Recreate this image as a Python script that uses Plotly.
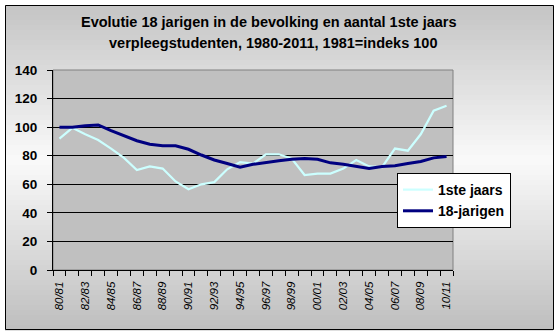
import plotly.graph_objects as go

# Academic years on the category axis
seasons = ["80/81", "81/82", "82/83", "83/84", "84/85", "85/86", "86/87", "87/88",
           "88/89", "89/90", "90/91", "91/92", "92/93", "93/94", "94/95", "95/96",
           "96/97", "97/98", "98/99", "99/00", "00/01", "01/02", "02/03", "03/04",
           "04/05", "05/06", "06/07", "07/08", "08/09", "09/10", "10/11"]

# Index values (1981 = 100)
eerstejaars = [92, 99.5, 95, 91, 85, 78.5, 70, 72.5, 71, 62, 56.5, 60, 61.5, 70.5,
               75.5, 74.5, 81, 81, 78, 66.5, 67.5, 67.5, 71, 77, 72.5, 72, 85,
               83.5, 95, 111.5, 115]
achttienjarigen = [100, 100, 101, 101.5, 97.5, 94, 90.5, 88, 87, 87, 84.5, 80.5, 77,
                   74.5, 72, 74, 75.5, 76.5, 77.5, 78, 77.5, 75, 74, 72.5, 71, 72.5,
                   73, 74.5, 76, 78.5, 79.5]

y_ticks = [0, 20, 40, 60, 80, 100, 120, 140]

W_FIG, H_FIG = 558, 334
L, R, T, B = 53, 105, 70, 64
PW, PH = W_FIG - L - R, H_FIG - T - B
FONT = "Liberation Sans, Arial"


def fx(px):
    return (px - L) / PW


def fy(py):
    return (H_FIG - B - py) / PH


xs = list(range(len(seasons)))

fig = go.Figure()
fig.add_trace(go.Scatter(x=xs, y=eerstejaars, mode="lines", name="1ste jaars",
                         line=dict(color="#CCFFFF", width=2.2), legendgroup="a"))
fig.add_trace(go.Scatter(x=xs, y=achttienjarigen, mode="lines", name="18-jarigen",
                         line=dict(color="#000080", width=3), legendgroup="b"))

shapes = []
# vertical gray-white-gray gradient inside the chart frame
top, bot, mid = 5, 330, 160
n = 65
for i in range(n):
    y0 = top + (bot - top) * i / n
    y1 = top + (bot - top) * (i + 1) / n
    yc = (y0 + y1) / 2
    if yc < mid:
        t = (yc - top) / (mid - top)
        g = 196 + (250 - 196) * t
    else:
        t = (yc - mid) / (bot - mid)
        g = 250 + (190 - 250) * t
    g = int(round(g))
    shapes.append(dict(type="rect", xref="paper", yref="paper", layer="below",
                       x0=fx(5), x1=fx(553), y0=fy(y1 + 0.5), y1=fy(y0),
                       fillcolor=f"rgb({g},{g},{g})", line=dict(width=0)))
# plot area fill and frame
shapes.append(dict(type="rect", xref="paper", yref="paper", layer="below",
                   x0=0, x1=1, y0=0, y1=1, fillcolor="#C0C0C0",
                   line=dict(color="#808080", width=1)))
# outer chart border
shapes.append(dict(type="rect", xref="paper", yref="paper", layer="above",
                   x0=fx(5.5), x1=fx(553.5), y0=fy(329.5), y1=fy(5.5),
                   fillcolor="rgba(0,0,0,0)", line=dict(color="black", width=1)))

title_font = dict(family=FONT, size=14.5, color="black")
annotations = [
    dict(text="<b>Evolutie 18 jarigen in de bevolking en aantal 1ste jaars</b>",
         xref="paper", yref="paper", x=fx(269), y=fy(21.5), showarrow=False,
         xanchor="center", yanchor="middle", font=title_font),
    dict(text="<b>verpleegstudenten, 1980-2011, 1981=indeks 100</b>",
         xref="paper", yref="paper", x=fx(273), y=fy(42.5), showarrow=False,
         xanchor="center", yanchor="middle", font=title_font),
]

fig.update_layout(
    width=W_FIG, height=H_FIG,
    margin=dict(l=L, r=R, t=T, b=B),
    paper_bgcolor="white",
    plot_bgcolor="rgba(0,0,0,0)",
    shapes=shapes,
    annotations=annotations,
    showlegend=True,
    legend=dict(x=fx(397), y=fy(173), xanchor="left", yanchor="top",
                bgcolor="white", bordercolor="black", borderwidth=1,
                font=dict(family=FONT, size=14, color="black", weight="bold"),
                traceorder="grouped", tracegroupgap=0, itemwidth=30),
    xaxis=dict(
        range=[-0.5, len(seasons) - 0.5],
        tickmode="array",
        tickvals=xs[::2],
        ticktext=seasons[::2],
        ticks="", tickangle=-90,
        ticklabelstandoff=6,
        tickfont=dict(family=FONT, size=11.5, color="black", style="italic"),
        showline=True, linecolor="black", linewidth=1,
        showgrid=False, zeroline=False,
        minor=dict(ticks="outside", tick0=-0.5, dtick=1, ticklen=5,
                   tickcolor="black", showgrid=False),
    ),
    yaxis=dict(
        range=[0, 140],
        tickmode="array", tickvals=y_ticks,
        ticks="outside", ticklen=5, tickcolor="black",
        ticklabelstandoff=7,
        tickfont=dict(family=FONT, size=13.5, color="black", weight="bold"),
        showline=True, linecolor="black", linewidth=1,
        showgrid=True, gridcolor="black", gridwidth=1,
        zeroline=False,
    ),
)

fig.write_html("out.html")
